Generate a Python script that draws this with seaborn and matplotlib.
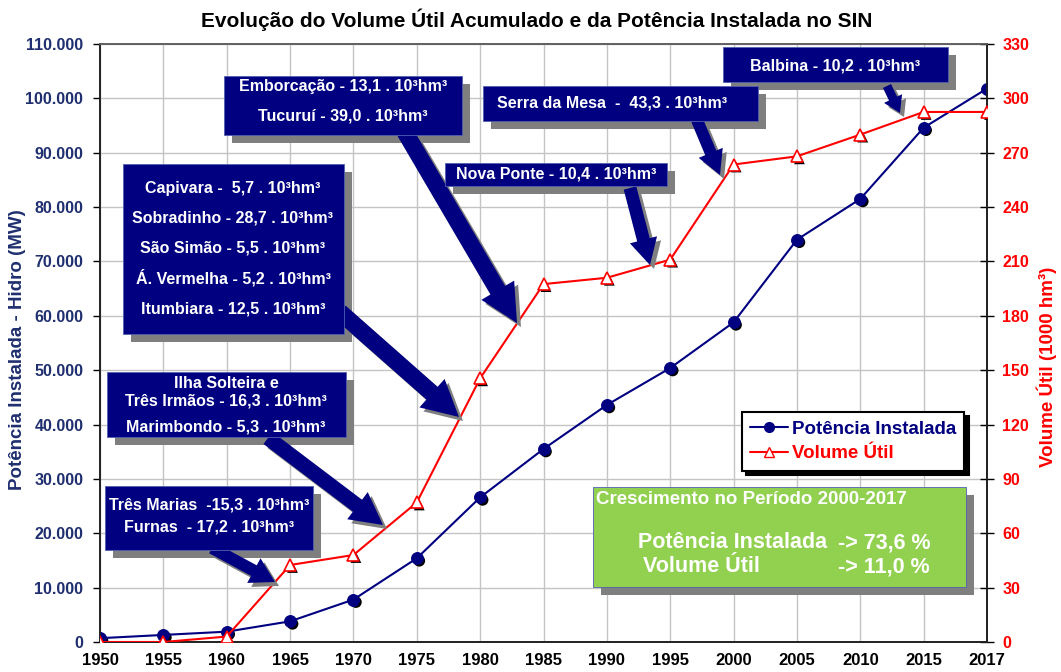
import numpy as np
import pandas as pd
import matplotlib
matplotlib.use("Agg")
from matplotlib import pyplot as plt
from matplotlib.patches import Rectangle, FancyArrow
from matplotlib.transforms import IdentityTransform, offset_copy
from matplotlib.lines import Line2D
import seaborn as sns

# dados
anos = ["1950", "1955", "1960", "1965", "1970", "1975", "1980", "1985",
        "1990", "1995", "2000", "2005", "2010", "2015", "2017"]
potencia = [700, 1300, 1900, 3800, 7800, 15400, 26600, 35500,
            43600, 50400, 58800, 74000, 81500, 94600, 101800]
volume = [0, 0, 3, 42.5, 48, 77, 145.5, 197.5,
          201, 211, 263.5, 268, 280, 292.5, 292.5]

left_ticks = list(range(0, 110001, 10000))
right_ticks = list(range(0, 331, 30))

NAVY = "#000080"
RED = "#FF0000"
GREEN = "#92D050"
W, H = 1061, 672

sns.set_theme(style="white")
plt.rcParams["font.family"] = ["Liberation Sans", "DejaVu Sans"]
plt.rcParams["font.weight"] = "bold"

df = pd.DataFrame({"pos": np.arange(len(anos)), "ano": anos,
                   "potencia": potencia, "volume": volume})

fig = plt.figure(figsize=(W / 100, H / 100), dpi=100)
ax = fig.add_axes([100 / W, 1 - 642 / H, 887 / W, 598 / H])
ax2 = ax.twinx()

# sombras dos marcadores
sh = offset_copy(ax.transData, fig=fig, x=2.5, y=-2.5, units="dots")
sh2 = offset_copy(ax2.transData, fig=fig, x=2.5, y=-2.5, units="dots")
sns.scatterplot(data=df, x="pos", y="potencia", ax=ax, color="black", s=70,
                edgecolor="none", transform=sh, zorder=3, legend=False)
sns.lineplot(data=df, x="pos", y="potencia", ax=ax, color=NAVY, lw=1.5,
             marker="o", markersize=8.5, markeredgecolor=NAVY, zorder=4,
             legend=False)
sns.scatterplot(data=df, x="pos", y="volume", ax=ax2, color="black", s=60,
                marker="^", edgecolor="none", transform=sh2, zorder=3,
                legend=False)
sns.lineplot(data=df, x="pos", y="volume", ax=ax2, color=RED, lw=1.5,
             marker="^", markersize=8, markerfacecolor="white",
             markeredgecolor=RED, markeredgewidth=1.2, zorder=4, legend=False)

ax.set_xlim(0, len(anos) - 1)
ax.set_ylim(0, 110000)
ax2.set_ylim(0, 330)
ax.set_xticks(df["pos"])
ax.set_xticklabels(anos, fontsize=12, fontweight="bold", color="black")
ax.set_yticks(left_ticks)
ax.set_yticklabels([f"{v:,}".replace(",", ".") for v in left_ticks],
                   fontsize=11.5, fontweight="bold", color="#1F2F6F")
ax2.set_yticks(right_ticks)
ax2.set_yticklabels([str(v) for v in right_ticks], fontsize=11.5,
                    fontweight="bold", color=RED)
ax.set_xlabel("")
ax.set_ylabel("")
ax2.set_ylabel("")
ax.grid(True, color="#C4C4C4", lw=1)
ax.tick_params(axis="y", direction="out", length=5, width=1, color="black", pad=7)
ax.tick_params(axis="x", direction="out", length=5, width=1, color="black", pad=3)
ax2.tick_params(axis="y", direction="inout", length=10, width=1, color="black", pad=6)
for a in (ax, ax2):
    for s in a.spines.values():
        s.set_color("#202020")
        s.set_linewidth(1.2)
    a.spines["top"].set_color("#606060")

fig.text(537 / W, 1 - 20 / H,
         "Evolução do Volume Útil Acumulado e da Potência Instalada no SIN",
         ha="center", va="center", fontsize=15, fontweight="bold", color="black")
fig.text(18 / W, 1 - 350 / H, "Potência Instalada - Hidro (MW)", rotation=90,
         ha="center", va="center", fontsize=13.5, fontweight="bold", color="#1F2F6F")
fig.text(1047 / W, 1 - 367 / H, "Volume Útil (1000 hm³)", rotation=90,
         ha="center", va="center", fontsize=13.5, fontweight="bold", color=RED)

ID = IdentityTransform()


def box(x0, y0, x1, y1, color, shadow=8):
    fig.add_artist(Rectangle((x0 + shadow, H - y1 - shadow), x1 - x0, y1 - y0,
                             transform=ID, facecolor="#7F7F7F", edgecolor="none",
                             zorder=10))
    fig.add_artist(Rectangle((x0, H - y1), x1 - x0, y1 - y0, transform=ID,
                             facecolor=color, edgecolor="#5060B0", lw=0.6,
                             zorder=11))


def label(x, y, s, size=11.5, ha="center"):
    fig.text(x, H - y, s, transform=ID, ha=ha, va="center", fontsize=size,
             fontweight="bold", color="white", zorder=12)


def arrow(x0, y0, x1, y1, w, hw, hl):
    for off, col, z in ((4, "#7F7F7F", 10), (0, NAVY, 11)):
        fig.add_artist(FancyArrow(x0 + off, H - y0 - off, x1 - x0, -(y1 - y0),
                                  width=w, head_width=hw, head_length=hl,
                                  length_includes_head=True, transform=ID,
                                  facecolor=col, edgecolor="none", zorder=z))


# setas
arrow(405, 132, 517, 323, 17, 38, 38)
arrow(340, 312, 459, 417, 17, 38, 36)
arrow(268, 438, 383, 525, 15, 34, 32)
arrow(212, 548, 275, 582, 12, 28, 24)
arrow(630, 188, 650, 265, 13, 28, 26)
arrow(697, 120, 720, 175, 12, 26, 24)
arrow(887, 86, 900, 113, 9, 20, 16)

# caixas de anotacao
box(224, 76, 462, 135, NAVY)
label(343, 87, "Emborcação - 13,1 . 10³hm³")
label(343, 116, "Tucuruí - 39,0 . 10³hm³")

box(483, 86, 758, 121, NAVY)
label(612, 103, "Serra da Mesa  -  43,3 . 10³hm³")

box(723, 47, 948, 82, NAVY)
label(835, 66, "Balbina - 10,2 . 10³hm³")

box(445, 163, 667, 186, NAVY)
label(556, 174, "Nova Ponte - 10,4 . 10³hm³")

box(123, 164, 344, 334, NAVY)
for yy, s in zip([189, 218, 248, 278, 309],
                 ["Capivara -  5,7 . 10³hm³", "Sobradinho - 28,7 . 10³hm³",
                  "São Simão - 5,5 . 10³hm³", "Á. Vermelha - 5,2 . 10³hm³",
                  "Itumbiara - 12,5 . 10³hm³"]):
    label(233, yy, s)

box(107, 372, 346, 437, NAVY)
label(226, 383, "Ilha Solteira e")
label(226, 401, "Três Irmãos - 16,3 . 10³hm³")
label(226, 427, "Marimbondo - 5,3 . 10³hm³")

box(105, 486, 313, 550, NAVY)
label(209, 505, "Três Marias  -15,3 . 10³hm³")
label(209, 527, "Furnas  - 17,2 . 10³hm³")

# caixa verde
box(593, 487, 966, 587, GREEN)
label(596, 500, "Crescimento no Período 2000-2017", size=13.5, ha="left")
label(638, 543, "Potência Instalada", size=15.5, ha="left")
label(838, 543, "-> 73,6 %", size=15.5, ha="left")
label(643, 567, "Volume Útil", size=15.5, ha="left")
label(838, 567, "-> 11,0 %", size=15.5, ha="left")

# legenda
handles = [
    Line2D([], [], color=NAVY, lw=1.5, marker="o", markersize=7,
           markerfacecolor=NAVY, markeredgecolor=NAVY),
    Line2D([], [], color=RED, lw=1.5, marker="^", markersize=7,
           markerfacecolor="white", markeredgecolor=RED),
]
leg = fig.legend(handles, ["Potência Instalada", "Volume Útil"],
                 loc="upper left", bbox_to_anchor=(742 / W, 1 - 412 / H),
                 bbox_transform=fig.transFigure, borderaxespad=0,
                 fontsize=13.5, frameon=True, fancybox=False,
                 edgecolor="black", facecolor="white", framealpha=1,
                 borderpad=0.45, labelspacing=0.4, handlelength=2.0,
                 handletextpad=0.2,
                 shadow={"color": "black", "alpha": 1, "ox": 3, "oy": -3})
leg.get_frame().set_linewidth(1.5)
leg.set_zorder(12)
for t, c in zip(leg.get_texts(), [NAVY, RED]):
    t.set_color(c)
    t.set_fontweight("bold")

fig.savefig("out.png", dpi=100)
